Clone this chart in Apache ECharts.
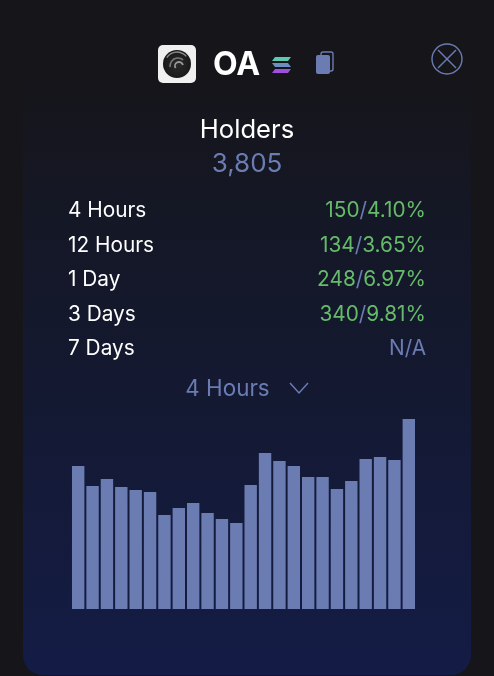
<!DOCTYPE html>
<html>
<head>
<meta charset="utf-8">
<style>
  html, body { margin: 0; padding: 0; background: #15151a; }
  #main { width: 494px; height: 676px; }
</style>
<script src="https://cdn.jsdelivr.net/npm/echarts@6/dist/echarts.min.js"></script>
</head>
<body>
<div id="main"></div>
<script>
// bar values, no axis in the original
var bars = [143, 123, 130, 122, 119, 117, 94, 101, 106, 96, 90, 86, 124, 156, 148, 143, 132, 132, 120, 128, 150, 152, 149, 190];
var slots = bars.map(function (v, i) { return 'h' + i; });

var periods = ['4 Hours', '12 Hours', '1 Day', '3 Days', '7 Days'];
var counts = ['150', '134', '248', '340', null];
var percents = ['4.10%', '3.65%', '6.97%', '9.81%', null];

var tokenName = 'OA';
var metricName = 'Holders';
var metricValue = '3,805';
var selected = '4 Hours';

var BLUE = '#6b7cb3';
var GREEN = '#66bb6a';
var FONT = 'Inter';

var myChart = echarts.init(document.getElementById('main'));

function txt(x, y, text, size, color, align, weight) {
    return {
        type: 'text', x: x, y: y, z: 5,
        style: {
            text: text, fill: color, fontFamily: FONT, fontSize: size,
            fontWeight: weight || 400, align: align || 'left', verticalAlign: 'middle'
        }
    };
}

var elements = [
    // panel
    {
        type: 'rect', z: -10,
        shape: { x: 23, y: 70, width: 448, height: 605, r: 20 },
        style: {
            fill: new echarts.graphic.LinearGradient(0, 0, 0, 1, [
                { offset: 0, color: '#15151a' },
                { offset: 0.08, color: '#15161e' },
                { offset: 1, color: '#131c46' }
            ])
        }
    },
    // token logo
    { type: 'rect', shape: { x: 158, y: 45, width: 38, height: 38, r: 5 }, style: { fill: '#f0f0f0' } },
    {
        type: 'circle', shape: { cx: 177, cy: 64, r: 14 },
        style: {
            fill: new echarts.graphic.RadialGradient(0.5, 0.5, 0.6, [
                { offset: 0, color: '#2a2a2a' },
                { offset: 1, color: '#161616' }
            ])
        }
    },
    { type: 'arc', shape: { cx: 179, cy: 66, r: 4, startAngle: 2.6, endAngle: 6.0 }, style: { stroke: '#9a9a9a', lineWidth: 1.8, fill: null } },
    { type: 'arc', shape: { cx: 178, cy: 66, r: 8, startAngle: 3.0, endAngle: 5.4 }, style: { stroke: '#777', lineWidth: 1.6, fill: null } },
    { type: 'arc', shape: { cx: 177, cy: 64, r: 12, startAngle: 3.7, endAngle: 5.6 }, style: { stroke: '#8a8a8a', lineWidth: 1.4, fill: null } },
    txt(213, 65, tokenName, 32, '#ffffff', 'left', 700),
    // chain icon
    { type: 'polygon', shape: { points: [[275, 57], [291, 57], [288, 61], [272, 61]] }, style: { fill: '#5cc8b0' } },
    { type: 'polygon', shape: { points: [[272, 63], [288, 63], [291, 67], [275, 67]] }, style: { fill: '#6a8fc0' } },
    { type: 'polygon', shape: { points: [[275, 69], [291, 69], [288, 73], [272, 73]] }, style: { fill: '#a04fe0' } },
    // copy icon
    { type: 'rect', shape: { x: 321, y: 52, width: 12, height: 19, r: 2 }, style: { fill: 'none', stroke: BLUE, lineWidth: 1.4 } },
    { type: 'rect', shape: { x: 316, y: 55, width: 14, height: 19, r: 2 }, style: { fill: BLUE } },
    // close button
    { type: 'circle', shape: { cx: 447, cy: 59, r: 15 }, style: { fill: 'none', stroke: BLUE, lineWidth: 1.4 } },
    { type: 'line', shape: { x1: 438, y1: 50, x2: 456, y2: 68 }, style: { stroke: BLUE, lineWidth: 1.4 } },
    { type: 'line', shape: { x1: 456, y1: 50, x2: 438, y2: 68 }, style: { stroke: BLUE, lineWidth: 1.4 } },
    // heading
    txt(247, 130, metricName, 25.6, '#ffffff', 'center'),
    txt(247, 164, metricValue, 26, BLUE, 'center'),
    // dropdown
    txt(227.5, 389, selected, 22.4, BLUE, 'center'),
    { type: 'polyline', shape: { points: [[290, 383], [299, 393], [308, 383]] }, style: { fill: 'none', stroke: BLUE, lineWidth: 1.5 } }
];

// period rows
var rowY = [211, 246, 280, 315, 349];
periods.forEach(function (p, i) {
    elements.push(txt(68, rowY[i], p, 20.8, '#ffffff', 'left'));
    var el;
    if (counts[i] === null) {
        el = txt(426, rowY[i], 'N/A', 20.8, BLUE, 'right');
    } else {
        el = txt(426, rowY[i], '{g|' + counts[i] + '}{b|/}{g|' + percents[i] + '}', 20.8, GREEN, 'right');
        el.style.rich = {
            g: { fill: GREEN, fontFamily: FONT, fontSize: 20.8 },
            b: { fill: BLUE, fontFamily: FONT, fontSize: 20.8 }
        };
    }
    elements.push(el);
});

var option = {
    backgroundColor: '#15151a',
    animation: false,
    graphic: { elements: elements },
    grid: { left: 71, top: 419, width: 345, height: 190 },
    xAxis: { type: 'category', data: slots, show: false },
    yAxis: { type: 'value', min: 0, max: 190, show: false },
    series: [{
        type: 'bar',
        data: bars,
        barWidth: 12.4,
        itemStyle: { color: BLUE },
        silent: true
    }]
};

myChart.setOption(option);
</script>
</body>
</html>
